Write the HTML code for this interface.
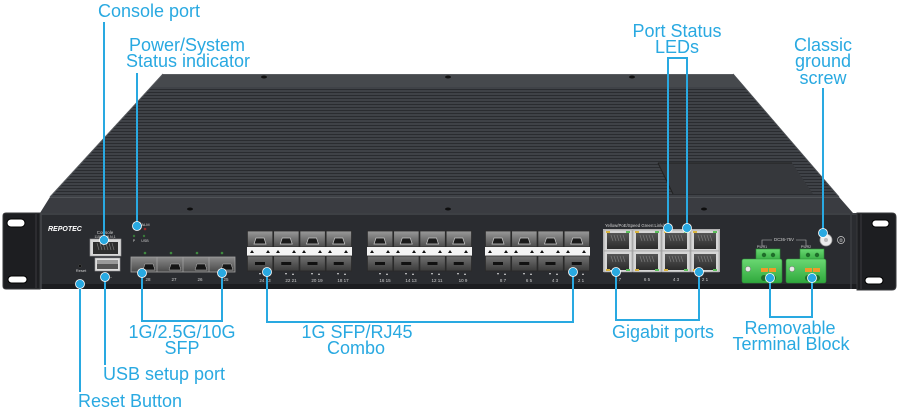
<!DOCTYPE html>
<html><head><meta charset="utf-8"><style>
html,body{margin:0;padding:0;background:#fff;}
svg{display:block;}
.lb{font-family:"Liberation Sans",Arial,sans-serif;font-size:18px;fill:#29a9e1;text-anchor:middle;}
.tn{font-family:"Liberation Sans",Arial,sans-serif;fill:#cfcfcf;text-anchor:middle;}
</style></head><body>
<svg width="898" height="414" viewBox="0 0 898 414" xmlns="http://www.w3.org/2000/svg">
<defs>
<pattern id="gr" width="10" height="3" patternUnits="userSpaceOnUse">
<rect width="10" height="3" fill="#3f4247"/><rect y="2" width="10" height="1" fill="#2a2c30"/>
</pattern>
<linearGradient id="gCage" x1="0" y1="0" x2="0" y2="1"><stop offset="0" stop-color="#9a9a9a"/><stop offset="1" stop-color="#4c4c4c"/></linearGradient>
<linearGradient id="gLow" x1="0" y1="0" x2="0" y2="1"><stop offset="0" stop-color="#727272"/><stop offset="1" stop-color="#3a3a3a"/></linearGradient>
<linearGradient id="gSfp" x1="0" y1="0" x2="0" y2="1"><stop offset="0" stop-color="#8a8a8a"/><stop offset="1" stop-color="#4a4a4a"/></linearGradient>
<linearGradient id="gRJ" x1="0" y1="0" x2="0" y2="1"><stop offset="0" stop-color="#555"/><stop offset="1" stop-color="#2c2c2c"/></linearGradient>
<linearGradient id="gGr" x1="0" y1="0" x2="0" y2="1"><stop offset="0" stop-color="#6ad872"/><stop offset="1" stop-color="#2fa83c"/></linearGradient>
<g id="cu">
<rect x="0.4" y="0" width="25.4" height="16" fill="url(#gCage)" stroke="#2a2a2a" stroke-width="0.8"/>
<path d="M7 13 L9 7 L17 7 L19 13 Z" fill="#1c1c1c" stroke="#c8c8c8" stroke-width="0.7"/>
</g>
<g id="cl">
<rect x="0.4" y="0" width="25.4" height="15" fill="url(#gLow)" stroke="#2a2a2a" stroke-width="0.8"/>
<rect x="8" y="6" width="10" height="3" fill="#111"/>
</g>
<g id="strip">
<rect x="0" y="0" width="105" height="9" fill="#f4f4f4"/>
<g fill="#111">
<path d="M3 6 L5 3 L7 6Z"/><path d="M19 6 L21 3 L23 6Z"/>
<path d="M29 6 L31 3 L33 6Z"/><path d="M45 6 L47 3 L49 6Z"/>
<path d="M55 6 L57 3 L59 6Z"/><path d="M71 6 L73 3 L75 6Z"/>
<path d="M81 6 L83 3 L85 6Z"/><path d="M97 6 L99 3 L101 6Z"/>
</g>
</g>
<g id="combo">
<use href="#cu" x="0" y="0"/><use href="#cu" x="26.25" y="0"/><use href="#cu" x="52.5" y="0"/><use href="#cu" x="78.75" y="0"/>
<use href="#strip" x="0" y="16"/>
<use href="#cl" x="0" y="25"/><use href="#cl" x="26.25" y="25"/><use href="#cl" x="52.5" y="25"/><use href="#cl" x="78.75" y="25"/>
<g fill="#ddd">
<path d="M12 42 L14 42 L13 44Z"/><path d="M19 44 L21 44 L20 42Z"/>
<path d="M38 42 L40 42 L39 44Z"/><path d="M45 44 L47 44 L46 42Z"/>
<path d="M64 42 L66 42 L65 44Z"/><path d="M71 44 L73 44 L72 42Z"/>
<path d="M90 42 L92 42 L91 44Z"/><path d="M97 44 L99 44 L98 42Z"/>
</g>
</g>
<g id="rj">
<rect x="0" y="0" width="28" height="21" fill="#d6d6d6" stroke="#9a9a9a" stroke-width="0.6"/>
<rect x="3" y="3" width="22" height="16" fill="url(#gRJ)"/>
<g stroke="#7a7a7a" stroke-width="0.7">
<line x1="7" y1="5" x2="9" y2="11"/><line x1="10" y1="5" x2="12" y2="11"/><line x1="13" y1="5" x2="15" y2="11"/><line x1="16" y1="5" x2="18" y2="11"/><line x1="19" y1="5" x2="21" y2="11"/>
</g>
</g>
<g id="tb">
<rect x="14" y="0" width="24" height="13" fill="url(#gGr)" stroke="#2c8c36" stroke-width="0.6"/>
<circle cx="22" cy="6" r="2.2" fill="#1f6e2a"/><circle cx="31" cy="6" r="2.2" fill="#1f6e2a"/>
<rect x="0" y="10" width="40" height="24" rx="2" fill="url(#gGr)" stroke="#2c8c36" stroke-width="0.6"/>
<circle cx="6" cy="20" r="2.6" fill="#e8e8e8" stroke="#777" stroke-width="0.5"/>
<rect x="19" y="19" width="7" height="4" fill="#f09a2a"/><rect x="27" y="19" width="7" height="4" fill="#f09a2a"/>
<circle cx="22" cy="29" r="3" fill="#1f6e2a"/><circle cx="31" cy="29" r="3" fill="#1f6e2a"/>
</g>
</defs>

<!-- top surface -->
<polygon points="163,74 733,74 839,197 50,197" fill="url(#gr)"/>
<polygon points="163,74 733,74 744,87 151,87" fill="#46494d"/>
<line x1="163" y1="74.5" x2="733" y2="74.5" stroke="#5a5d61" stroke-width="1"/>
<line x1="163" y1="74" x2="50" y2="197" stroke="#55585c" stroke-width="1"/>
<line x1="733" y1="74" x2="839" y2="197" stroke="#4a4d51" stroke-width="1"/>
<polygon points="658,163 792,163 813,194 673,194" fill="#36383c"/>
<line x1="658" y1="163" x2="792" y2="163" stroke="#222" stroke-width="1"/>
<line x1="658" y1="163" x2="673" y2="194" stroke="#222" stroke-width="1"/>
<g fill="#111">
<ellipse cx="264" cy="77" rx="3" ry="1.5"/><ellipse cx="448" cy="77" rx="3" ry="1.5"/><ellipse cx="632" cy="77" rx="3" ry="1.5"/>
</g>
<!-- front lip -->
<polygon points="50,197 839,197 853,213 40,213" fill="#3a3c41"/>
<line x1="50" y1="197.5" x2="839" y2="197.5" stroke="#505357" stroke-width="1"/>
<g fill="#0e0e0e">
<ellipse cx="190" cy="209" rx="3" ry="1.5"/><ellipse cx="448" cy="209" rx="3" ry="1.5"/><ellipse cx="704" cy="209" rx="3" ry="1.5"/>
</g>
<!-- front panel -->
<rect x="40" y="213" width="817" height="76" fill="#2a2c30"/>
<line x1="40" y1="214" x2="857" y2="214" stroke="#505357" stroke-width="1"/>
<rect x="40" y="284" width="817" height="5" fill="#1c1d20"/>
<line x1="41" y1="213" x2="41" y2="289" stroke="#44474b" stroke-width="1.5"/>
<line x1="851" y1="213" x2="851" y2="289" stroke="#3a3c40" stroke-width="1.5"/>
<!-- ears -->
<path d="M6 213 H40 V289 H6 Q3 289 3 286 V216 Q3 213 6 213 Z" fill="#1d1e21" stroke="#38393c" stroke-width="1"/>
<line x1="36" y1="214" x2="36" y2="288" stroke="#3a3b3e" stroke-width="1"/>
<rect x="7" y="219" width="18" height="8" rx="4" fill="#fff" stroke="#000" stroke-width="1"/>
<rect x="8" y="276" width="19" height="7" rx="3.5" fill="#fff" stroke="#000" stroke-width="1"/>
<path d="M857 213 H892 Q896 213 896 217 V286 Q896 290 892 290 H857 Z" fill="#1d1e21" stroke="#38393c" stroke-width="1"/>
<line x1="861" y1="214" x2="861" y2="289" stroke="#3a3b3e" stroke-width="1"/>
<rect x="872" y="220" width="17" height="7" rx="3.5" fill="#fff" stroke="#000" stroke-width="1"/>
<rect x="865" y="277" width="18" height="7" rx="3.5" fill="#fff" stroke="#000" stroke-width="1"/>

<!-- left panel items -->
<text x="48" y="231" font-family="Liberation Sans,Arial,sans-serif" font-size="7" font-weight="bold" font-style="italic" fill="#fff">REPOTEC</text>
<text class="tn" x="105" y="234" font-size="4.5">Console</text>
<text class="tn" x="105" y="238" font-size="3.6">115200,8,N,1</text>
<rect x="90" y="239" width="31" height="17" fill="#d8d8d8" stroke="#999" stroke-width="0.6"/>
<rect x="93" y="242" width="25" height="12" fill="#2e2e2e"/>
<g stroke="#777" stroke-width="0.7"><line x1="97" y1="243" x2="99" y2="250"/><line x1="100" y1="243" x2="102" y2="250"/><line x1="103" y1="243" x2="105" y2="250"/><line x1="106" y1="243" x2="108" y2="250"/><line x1="109" y1="243" x2="111" y2="250"/><line x1="112" y1="243" x2="114" y2="250"/></g>
<rect x="95" y="258" width="25" height="13" fill="#e0e0e0" stroke="#999" stroke-width="0.6"/>
<rect x="97" y="260" width="21" height="9" fill="#555"/>
<rect x="97" y="260" width="21" height="4" fill="#9a9a9a"/>
<text class="tn" x="110" y="279" font-size="5">⇠</text>
<circle cx="80" cy="266" r="1.5" fill="#111" stroke="#444" stroke-width="0.5"/>
<text class="tn" x="81" y="272" font-size="4">Reset</text>
<text class="tn" x="141" y="226" font-size="4">SYS ALM</text>
<circle cx="136" cy="229" r="1.3" fill="#3a7a3a"/><circle cx="145" cy="229" r="1.3" fill="#9a2a2a"/>
<circle cx="134" cy="236" r="1.2" fill="#3a7a3a"/><circle cx="144" cy="236" r="1.2" fill="#3a7a3a"/>
<text class="tn" x="134" y="242" font-size="3.6">P</text><text class="tn" x="145" y="242" font-size="3.6">USB</text>
<!-- 10G SFP -->
<g fill="#3f8a3f"><circle cx="145" cy="253" r="1.3"/><circle cx="171" cy="253" r="1.3"/><circle cx="197" cy="253" r="1.3"/><circle cx="222" cy="253" r="1.3"/></g>
<rect x="131" y="257" width="104" height="15" fill="url(#gSfp)" stroke="#a0a0a0" stroke-width="0.8"/>
<g stroke="#a0a0a0" stroke-width="0.8"><line x1="157" y1="257" x2="157" y2="272"/><line x1="183" y1="257" x2="183" y2="272"/><line x1="209" y1="257" x2="209" y2="272"/></g>
<g fill="#151515" stroke="#bbb" stroke-width="0.5">
<path d="M143 270 L145 264 L153 264 L155 270Z"/><path d="M169 270 L171 264 L179 264 L181 270Z"/><path d="M195 270 L197 264 L205 264 L207 270Z"/><path d="M221 270 L223 264 L231 264 L233 270Z"/>
</g>
<g font-size="4.5"><text x="148" y="281" class="tn">28</text><text x="174" y="281" class="tn">27</text><text x="200" y="281" class="tn">26</text><text x="226" y="281" class="tn">25</text></g>
<!-- combo groups -->
<use href="#combo" x="247" y="231"/>
<use href="#combo" x="367" y="231"/>
<use href="#combo" x="485" y="231"/>
<g font-size="4.5">
<text class="tn" x="265" y="282">24 23</text><text class="tn" x="291" y="282">22 21</text><text class="tn" x="317" y="282">20 19</text><text class="tn" x="343" y="282">18 17</text>
<text class="tn" x="385" y="282">16 15</text><text class="tn" x="411" y="282">14 13</text><text class="tn" x="437" y="282">12 11</text><text class="tn" x="463" y="282">10 9</text>
<text class="tn" x="503" y="282">8 7</text><text class="tn" x="529" y="282">6 5</text><text class="tn" x="555" y="282">4 3</text><text class="tn" x="581" y="282">2 1</text>
</g>
<!-- gigabit RJ45 -->
<text x="605" y="227" font-family="Liberation Sans,Arial,sans-serif" font-size="4.3" fill="#d0d0d0">Yellow/PoE/Speed  Green:Link/Act</text>
<rect x="603" y="229" width="117" height="43" fill="#bdbdbd"/>
<use href="#rj" x="604" y="230"/><use href="#rj" x="633" y="230"/><use href="#rj" x="662" y="230"/><use href="#rj" x="691" y="230"/>
<use href="#rj" x="604" y="251"/><use href="#rj" x="633" y="251"/><use href="#rj" x="662" y="251"/><use href="#rj" x="691" y="251"/>
<g fill="#d9b43c"><rect x="606" y="231" width="4" height="2"/><rect x="635" y="231" width="4" height="2"/><rect x="664" y="231" width="4" height="2"/><rect x="693" y="231" width="4" height="2"/>
<rect x="606" y="269" width="4" height="2"/><rect x="635" y="269" width="4" height="2"/><rect x="664" y="269" width="4" height="2"/><rect x="693" y="269" width="4" height="2"/></g>
<g fill="#5cc15c"><rect x="626" y="231" width="4" height="2"/><rect x="655" y="231" width="4" height="2"/><rect x="684" y="231" width="4" height="2"/><rect x="713" y="231" width="4" height="2"/>
<rect x="626" y="269" width="4" height="2"/><rect x="655" y="269" width="4" height="2"/><rect x="684" y="269" width="4" height="2"/><rect x="713" y="269" width="4" height="2"/></g>
<g font-size="4.5"><text class="tn" x="618" y="281">8 7</text><text class="tn" x="647" y="281">6 5</text><text class="tn" x="676" y="281">4 3</text><text class="tn" x="705" y="281">2 1</text></g>
<!-- terminal blocks -->
<text class="tn" x="784" y="241" font-size="4.3">DC36-75V</text>
<path d="M762 246 V240 H772 M796 240 H806 V246" stroke="#bbb" stroke-width="0.6" fill="none"/>
<text class="tn" x="762" y="248" font-size="3.6">PWR1</text><text class="tn" x="806" y="248" font-size="3.6">PWR2</text>
<use href="#tb" x="742" y="249"/>
<use href="#tb" x="786" y="249"/>
<!-- ground screw -->
<circle cx="826" cy="240" r="6" fill="#ececec" stroke="#999" stroke-width="0.8"/>
<circle cx="826" cy="240" r="2" fill="#bbb"/>
<circle cx="841" cy="240" r="3.5" fill="none" stroke="#cfcfcf" stroke-width="0.7"/>
<path d="M841 238 V240 M839 240 H843 M839.7 241.2 H842.3" stroke="#cfcfcf" stroke-width="0.6"/>

<!-- connectors -->
<g stroke="#29a9e1" stroke-width="2" fill="none">
<path d="M104 22 V240"/>
<path d="M137 73 V226"/>
<path d="M668 228 V58 H687 V228"/>
<path d="M823 88 V233"/>
<path d="M80 284 V392"/>
<path d="M105 277 V365"/>
<path d="M142 273 V321 H222 V273"/>
<path d="M267 272 V322 H573 V272"/>
<path d="M616 272 V320 H699 V272"/>
<path d="M770 278 V317 H812 V278"/>
</g>
<g fill="#29a9e1" stroke="#fff" stroke-width="0.8">
<circle cx="104" cy="240" r="4.5"/><circle cx="137" cy="226" r="4.5"/>
<circle cx="668" cy="228" r="4.5"/><circle cx="687" cy="228" r="4.5"/>
<circle cx="823" cy="233" r="4.5"/>
<circle cx="80" cy="284" r="4.5"/><circle cx="105" cy="277" r="4.5"/>
<circle cx="142" cy="273" r="4.5"/><circle cx="222" cy="273" r="4.5"/>
<circle cx="267" cy="272" r="4.5"/><circle cx="573" cy="272" r="4.5"/>
<circle cx="616" cy="272" r="4.5"/><circle cx="699" cy="272" r="4.5"/>
<circle cx="770" cy="278" r="4.5"/><circle cx="812" cy="278" r="4.5"/>
</g>

<!-- labels -->
<text class="lb" x="149" y="17">Console port</text>
<text class="lb" x="187" y="51">Power/System</text>
<text class="lb" x="188" y="67">Status indicator</text>
<text class="lb" x="677" y="37">Port Status</text>
<text class="lb" x="677" y="53">LEDs</text>
<text class="lb" x="823" y="51">Classic</text>
<text class="lb" x="823" y="67">ground</text>
<text class="lb" x="823" y="84">screw</text>
<text class="lb" x="182" y="338">1G/2.5G/10G</text>
<text class="lb" x="182" y="354">SFP</text>
<text class="lb" x="357" y="338">1G SFP/RJ45</text>
<text class="lb" x="356" y="354">Combo</text>
<text class="lb" x="663" y="338">Gigabit ports</text>
<text class="lb" x="790" y="334">Removable</text>
<text class="lb" x="791" y="350">Terminal Block</text>
<text class="lb" x="164" y="380">USB setup port</text>
<text class="lb" x="130" y="407">Reset Button</text>
</svg>
</body></html>
